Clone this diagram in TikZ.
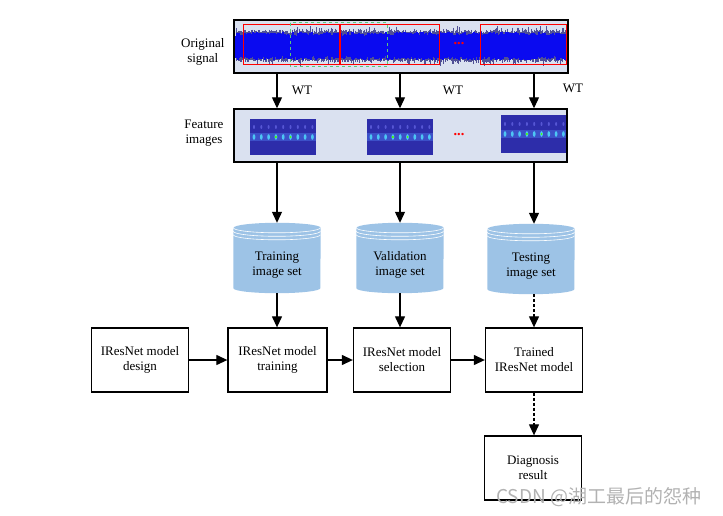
\documentclass[tikz,border=0pt]{standalone}
\usepackage{fontspec}
\setmainfont{Liberation Serif}
\newfontfamily\cjk{Noto Sans CJK SC}
\usetikzlibrary{arrows.meta,backgrounds}

\definecolor{panelbg}{RGB}{218,225,240}
\definecolor{cylfill}{RGB}{157,195,230}
\definecolor{sigblue}{RGB}{10,10,240}
\definecolor{spikecol}{RGB}{80,80,150}
\definecolor{imgblue}{RGB}{45,45,170}
\definecolor{imgmid}{RGB}{60,80,200}
\definecolor{boxgreen}{RGB}{90,200,120}

\tikzset{
  txt/.style={font=\fontsize{13}{15}\selectfont, align=center},
  panel/.style={draw, line width=1.4pt, fill=panelbg, inner sep=0pt},
  stepbox/.style={txt, draw, line width=1.3pt, minimum width=97pt, minimum height=64pt, inner sep=2pt},
  dbset/.style={minimum width=87pt, minimum height=70pt, inner sep=0pt},
  arr/.style={line width=1.2pt, -{Triangle[width=10pt,length=11pt]}},
  dasharr/.style={arr, dash pattern=on 3pt off 2pt},
  win/.style={draw=red, line width=1pt},
  reddots/.style={text=red, font=\bfseries\Large, inner sep=0pt}
}

\begin{document}
\begin{tikzpicture}[x=1pt, y=-1pt]
  \useasboundingbox (0,0) rectangle (723,516);

  % signal strip
  \node[panel, minimum width=334pt, minimum height=53pt] (sig) at (401,46.5) {};
  \pgfmathsetseed{11}
  \foreach \i in {0,...,329}{
    \pgfmathsetmacro\up{13+3*rnd+4*rnd^4}
    \pgfmathsetmacro\dn{13+3*rnd+4*rnd^4}
    \draw[spikecol, line width=0.5pt] (236+\i,46-\up) -- (236+\i,46+\dn);
    \pgfmathsetmacro\bu{10+4*rnd}
    \pgfmathsetmacro\bd{10+4*rnd}
    \draw[sigblue, line width=1.1pt] (236+\i,46-\bu) -- (236+\i,46+\bd);
  }
  \draw[win] (243,25) rectangle (340,65);
  \draw[win] (340,25) rectangle (439,65);
  \draw[win] (480,25) rectangle (566,65);
  \draw[line width=1.6pt, red] (340,25) -- (340,65);
  \draw[boxgreen, line width=1pt, dashed] (290,23) rectangle (387,67);
  \node[reddots] (sigdots) at (459,44) {...};
  \draw[line width=1.4pt] (sig.north west) rectangle (sig.south east);
  \node[txt, anchor=east] (siglabel) at (228,52) {Original\\signal};

  % feature images
  \node[panel, minimum width=333pt, minimum height=53pt] (feat) at (400.5,135.5) {};
  \foreach \xa/\xb/\ya/\yb in {250/316/119/155, 367/433/119/155, 501/566/115/153}{
    \fill[imgblue] (\xa,\ya) rectangle (\xb,\yb);
    \fill[imgmid] (\xa,{(\ya+\yb)/2-4}) rectangle (\xb,{(\ya+\yb)/2+4});
    \foreach \d in {0,...,8}{
      \fill[cyan!70!white] ({\xa+4+\d*7.3},{(\ya+\yb)/2}) ellipse[x radius=1.4pt, y radius=2.8pt];
      \fill[blue!50!white, opacity=0.5] ({\xa+4+\d*7.3},{(\ya+\yb)/2-10}) ellipse[x radius=1pt, y radius=2pt];
    }
    \fill[green!70!yellow] ({\xa+4+3*7.3},{(\ya+\yb)/2}) circle[radius=1.2pt];
    \fill[green!70!yellow] ({\xa+4+5*7.3},{(\ya+\yb)/2}) circle[radius=1pt];
  }
  \node[reddots] (featdots) at (459,135) {...};
  \draw[line width=1.4pt] (feat.north west) rectangle (feat.south east);
  \node[txt, anchor=east] (featlabel) at (227,133) {Feature\\images};

  % image sets
  \node[dbset, label={[txt, yshift=-7pt]center:Training\\image set}] (trainset) at (277,258) {};
  \node[dbset, label={[txt, yshift=-7pt]center:Validation\\image set}] (valset) at (400,258) {};
  \node[dbset, label={[txt, yshift=-7pt]center:Testing\\image set}] (testset) at (531,259) {};
  \begin{scope}[on background layer]
    \foreach \n in {trainset,valset,testset}{
      \fill[cylfill] ([yshift=-5pt]\n.north west) -- ([yshift=5pt]\n.south west)
        arc[start angle=180, end angle=360, x radius=43.5pt, y radius=5pt]
        -- ([yshift=-5pt]\n.north east)
        arc[start angle=0, end angle=180, x radius=43.5pt, y radius=5pt] -- cycle;
      \foreach \s in {0,3.5,7}
        \draw[white, line width=0.6pt] ([yshift={-(5+\s)*1pt}]\n.north west)
          arc[start angle=180, end angle=360, x radius=43.5pt, y radius=5pt];
    }
  \end{scope}

  % model steps
  \node[stepbox] (design) at (140,360) {IResNet model\\design};
  \node[stepbox, minimum width=99pt] (training) at (277.5,360) {IResNet model\\training};
  \node[stepbox] (selection) at (402,360) {IResNet model\\selection};
  \node[stepbox] (trained) at (534,360) {Trained\\IResNet model};
  \node[stepbox] (diag) at (533,468) {Diagnosis\\result};

  % WT labels
  \node[txt] (wt1) at (302,90) {WT};
  \node[txt] (wt2) at (453,90) {WT};
  \node[txt] (wt3) at (573,88) {WT};

  % connectors
  \draw[arr] (sig.south -| trainset) -- (feat.north -| trainset);
  \draw[arr] (sig.south -| valset) -- (feat.north -| valset);
  \draw[arr] (sig.south -| trained) -- (feat.north -| trained);
  \draw[arr] (feat.south -| trainset) -- (trainset.north);
  \draw[arr] (feat.south -| valset) -- (valset.north);
  \draw[arr] (feat.south -| trained) -- (trained |- testset.north);
  \draw[arr] (trainset.south) -- (trainset.south |- training.north);
  \draw[arr] (valset.south) -- (valset.south |- selection.north);
  \draw[dasharr] (trained |- testset.south) -- (trained.north);
  \draw[arr] (design) -- (training);
  \draw[arr] (training) -- (selection);
  \draw[arr] (selection) -- (trained);
  \draw[dasharr] (trained.south) -- (trained.south |- diag.north);

  % watermark
  \node[text=gray!60, font=\cjk\fontsize{19}{19}\selectfont, anchor=west, inner sep=0pt] (mark) at (496,497) {CSDN @湖工最后的怨种};
\end{tikzpicture}
\end{document}
